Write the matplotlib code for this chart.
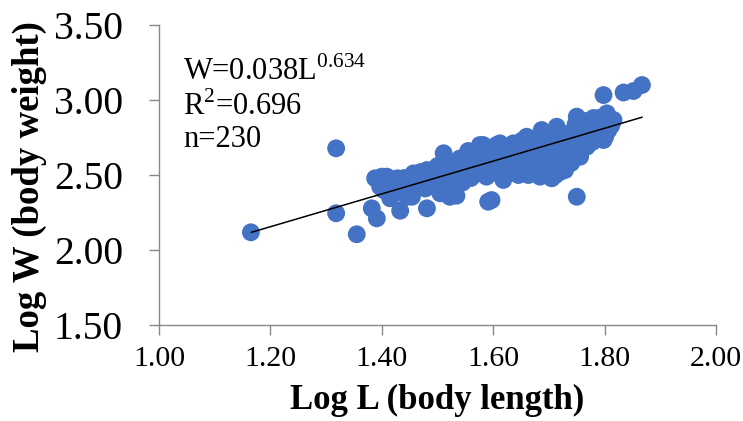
import numpy as np
import matplotlib
matplotlib.use('Agg')
import matplotlib.pyplot as plt

# log body length / log body weight
log_l = [1.165, 1.318, 1.318, 1.355, 1.391, 1.382, 1.388, 1.400, 1.409, 1.428,
         1.397, 1.403, 1.415, 1.433, 1.445, 1.454, 1.457, 1.470, 1.481, 1.481,
         1.476, 1.490, 1.505, 1.505, 1.522, 1.534, 1.511, 1.500, 1.515, 1.525,
         1.534, 1.546, 1.558, 1.550, 1.540, 1.530, 1.545, 1.560, 1.576, 1.576,
         1.588, 1.591, 1.570, 1.565, 1.582, 1.582, 1.590, 1.595, 1.600, 1.605,
         1.612, 1.618, 1.615, 1.620, 1.625, 1.630, 1.636, 1.636, 1.640, 1.645,
         1.650, 1.655, 1.660, 1.663, 1.665, 1.670, 1.672, 1.678, 1.684, 1.687,
         1.690, 1.692, 1.696, 1.700, 1.705, 1.708, 1.710, 1.714, 1.715, 1.720,
         1.722, 1.726, 1.729, 1.732, 1.738, 1.740, 1.745, 1.750, 1.750, 1.750,
         1.756, 1.756, 1.760, 1.765, 1.768, 1.775, 1.780, 1.785, 1.792, 1.798,
         1.801, 1.804, 1.807, 1.810, 1.816, 1.798, 1.834, 1.852, 1.867,
         1.600, 1.610, 1.622, 1.628, 1.633, 1.642, 1.648, 1.652, 1.658, 1.662,
         1.668, 1.674, 1.676, 1.680, 1.682, 1.686, 1.688, 1.694, 1.698, 1.702,
         1.704, 1.706, 1.712, 1.716, 1.718, 1.724, 1.728, 1.730, 1.734, 1.736,
         1.742, 1.744, 1.748, 1.752, 1.754, 1.758, 1.762, 1.766, 1.770, 1.772,
         1.778, 1.782, 1.788, 1.790, 1.795, 1.800, 1.812, 1.560, 1.566, 1.572,
         1.578, 1.585, 1.592, 1.597, 1.602, 1.606, 1.520, 1.526, 1.536, 1.548,
         1.552, 1.495, 1.488, 1.462, 1.440, 1.420, 1.418, 1.451, 1.466, 1.478,
         1.498, 1.512, 1.540, 1.555, 1.630, 1.645, 1.660, 1.690, 1.712, 1.725]
log_w = [2.118, 2.678, 2.245, 2.105, 2.211, 2.278, 2.478, 2.489, 2.489, 2.478,
         2.422, 2.400, 2.345, 2.262, 2.355, 2.355, 2.511, 2.520, 2.533, 2.278,
         2.456, 2.440, 2.400, 2.378, 2.355, 2.362, 2.645, 2.560, 2.520, 2.580,
         2.578, 2.556, 2.622, 2.600, 2.500, 2.470, 2.450, 2.480, 2.700, 2.511,
         2.489, 2.322, 2.560, 2.650, 2.620, 2.700, 2.580, 2.530, 2.680, 2.620,
         2.711, 2.467, 2.560, 2.600, 2.650, 2.690, 2.711, 2.578, 2.520, 2.620,
         2.680, 2.560, 2.755, 2.500, 2.640, 2.700, 2.590, 2.540, 2.489, 2.800,
         2.660, 2.720, 2.622, 2.560, 2.478, 2.760, 2.680, 2.822, 2.600, 2.520,
         2.740, 2.711, 2.533, 2.640, 2.780, 2.580, 2.700, 2.889, 2.355, 2.620,
         2.800, 2.622, 2.740, 2.860, 2.689, 2.780, 2.880, 2.830, 2.844, 2.733,
         2.755, 2.911, 2.800, 2.867, 2.867, 3.033, 3.050, 3.060, 3.100,
         2.600, 2.640, 2.530, 2.600, 2.660, 2.700, 2.560, 2.730, 2.600, 2.680,
         2.560, 2.740, 2.640, 2.600, 2.700, 2.560, 2.760, 2.580, 2.690, 2.740,
         2.620, 2.540, 2.780, 2.660, 2.560, 2.620, 2.760, 2.680, 2.580, 2.720,
         2.640, 2.760, 2.840, 2.680, 2.740, 2.660, 2.820, 2.720, 2.760, 2.840,
         2.720, 2.800, 2.760, 2.880, 2.800, 2.860, 2.830, 2.540, 2.600, 2.640,
         2.580, 2.660, 2.640, 2.333, 2.520, 2.700, 2.440, 2.500, 2.530, 2.580,
         2.520, 2.500, 2.480, 2.480, 2.480, 2.410, 2.367, 2.400, 2.420, 2.410,
         2.420, 2.460, 2.610, 2.660, 2.560, 2.500, 2.520, 2.520, 2.500, 2.560]

# trendline end points as drawn in the reference
trend_x = [1.166, 1.867]
trend_y = [2.118, 2.885]

x_ticks = [1.00, 1.20, 1.40, 1.60, 1.80, 2.00]
y_ticks = [1.50, 2.00, 2.50, 3.00, 3.50]

plt.rcParams['font.family'] = ['Liberation Serif', 'DejaVu Serif']
plt.rcParams['mathtext.fontset'] = 'custom'
plt.rcParams['mathtext.rm'] = 'Liberation Serif'

fig = plt.figure(figsize=(7.43, 4.21), dpi=100)
ax = fig.add_axes([0.214, 0.228, 0.7497, 0.7126])

ax.scatter(log_l, log_w, s=165, color='#4472C4', edgecolors='none', zorder=2)
ax.plot(trend_x, trend_y, color='black', lw=1.1, zorder=3)

ax.set_xlim(1.0, 2.0)
ax.set_ylim(1.5, 3.5)
ax.set_xticks(x_ticks)
ax.set_yticks(y_ticks)
ax.set_xticklabels(['%.2f' % v for v in x_ticks])
ax.set_yticklabels(['%.2f' % v for v in y_ticks])

for side in ['top', 'right']:
    ax.spines[side].set_visible(False)
for side in ['left', 'bottom']:
    ax.spines[side].set_color('#888888')
    ax.spines[side].set_linewidth(1.0)
ax.tick_params(axis='x', direction='out', length=7, width=1.0, color='#888888',
               labelsize=21.5, pad=8)
ax.tick_params(axis='y', direction='out', length=7, width=1.0, color='#888888',
               labelsize=28.5, pad=19)

ax.set_xlabel('Log L (body length)', fontsize=25, fontweight='bold')
ax.set_ylabel('Log W (body weight)', fontsize=26.5, fontweight='bold')
ax.xaxis.set_label_coords(0.5, -0.195)
ax.yaxis.set_label_coords(-0.201, 0.463)

ax.text(1.043, 3.133, r'W=0.038L$^\mathregular{0.634}$', fontsize=22)
ax.text(1.043, 2.900, r'R$^\mathregular{2}$=0.696', fontsize=22)
ax.text(1.043, 2.689, 'n=230', fontsize=22)

fig.savefig('out.png', dpi=100)
